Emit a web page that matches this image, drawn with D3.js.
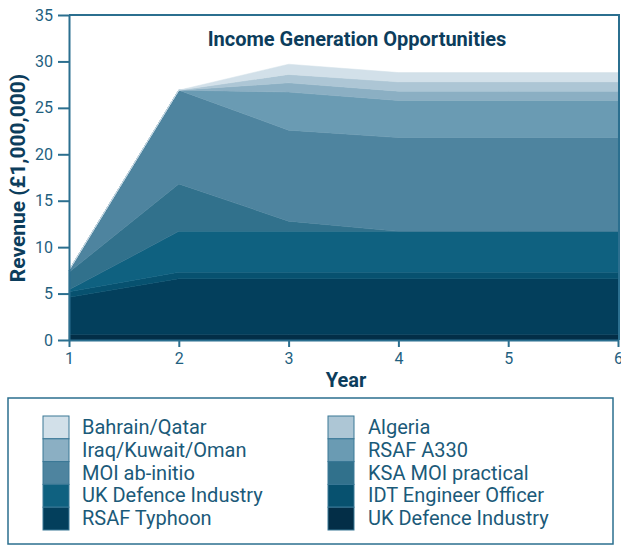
<!DOCTYPE html>
<html>
<head>
<meta charset="utf-8">
<script src="https://cdn.jsdelivr.net/npm/d3@7"></script>
<style>
  body { margin: 0; background: #fff; }
  svg { display: block; font-family: Roboto, "Open Sans", sans-serif; }
  .axis path, .axis line { stroke: #2b6f8f; stroke-width: 2; }
  .axis text { fill: #1f5f7f; font-size: 16px; font-family: Roboto, sans-serif; }
</style>
</head>
<body>
<svg id="chart" width="621" height="545"></svg>
<script>
// Years on the x axis
var years = [1, 2, 3, 4, 5, 6];

// Series names, bottom of the stack first
var seriesNames = [
    "UK Defence Industry", "RSAF Typhoon", "IDT Engineer Officer", "UK Defence Industry",
    "KSA MOI practical", "MOI ab-initio", "RSAF A330", "Iraq/Kuwait/Oman", "Algeria", "Bahrain/Qatar"
];

// Revenue per year, £ millions
var ukDefence1   = [0.6, 0.6, 0.6, 0.6, 0.6, 0.6];
var rsafTyphoon  = [4.0, 6.0, 6.0, 6.0, 6.0, 6.0];
var idtEngineer  = [0.6, 0.7, 0.7, 0.7, 0.7, 0.7];
var ukDefence2   = [0.2, 4.4, 4.4, 4.4, 4.4, 4.4];
var ksaMoi       = [1.9, 5.1, 1.1, 0.0, 0.0, 0.0];
var moiAbInitio  = [0.2, 10.1, 9.8, 10.1, 10.1, 10.1];
var rsafA330     = [0.0, 0.0, 4.1, 4.0, 4.0, 4.0];
var iraqKuwait   = [0.0, 0.0, 1.0, 1.0, 1.0, 1.0];
var algeria      = [0.0, 0.0, 0.9, 1.0, 1.0, 1.0];
var bahrainQatar = [0.0, 0.0, 1.1, 1.0, 1.0, 1.0];

var yTicks = [0, 5, 10, 15, 20, 25, 30, 35];

var seriesValues = [ukDefence1, rsafTyphoon, idtEngineer, ukDefence2, ksaMoi,
    moiAbInitio, rsafA330, iraqKuwait, algeria, bahrainQatar];

var colors = ["#032e47", "#033f5c", "#07516f", "#0f6180", "#31718c",
    "#4e849f", "#6a9bb3", "#8bafc3", "#adc6d5", "#d2e0e9"];

var svg = d3.select("#chart");

// build rows for d3.stack, keyed by index since one name repeats
var keys = seriesNames.map(function (d, i) { return "s" + i; });
var rows = years.map(function (yr, j) {
    var r = { year: yr };
    seriesValues.forEach(function (vals, i) { r["s" + i] = vals[j]; });
    return r;
});
var stacked = d3.stack().keys(keys)(rows);

var x = d3.scaleLinear().domain([1, 6]).range([69, 618]);
var y = d3.scaleLinear().domain([0, 35]).range([340, 15]);

var area = d3.area()
    .x(function (d) { return x(d.data.year); })
    .y0(function (d) { return y(d[0]); })
    .y1(function (d) { return y(d[1]); });

svg.append("g")
    .selectAll("path")
    .data(stacked)
    .enter().append("path")
    .attr("d", area)
    .attr("fill", function (d, i) { return colors[i]; })
    .attr("stroke", function (d, i) { return colors[i]; })
    .attr("stroke-width", 0.5);

// frame top and right
svg.append("path")
    .attr("d", "M" + x(1) + "," + y(35) + "H" + (x(6) + 1) + "V" + y(0))
    .attr("fill", "none")
    .attr("stroke", "#2b6f8f")
    .attr("stroke-width", 2);

// axes
svg.append("g")
    .attr("class", "axis")
    .attr("transform", "translate(" + x(1) + ",0)")
    .call(d3.axisLeft(y).tickValues(yTicks).tickSize(11).tickPadding(5).tickSizeOuter(0));

svg.append("g")
    .attr("class", "axis")
    .attr("transform", "translate(0," + y(0) + ")")
    .call(d3.axisBottom(x).tickValues(years).tickFormat(d3.format("d")).tickSize(7).tickPadding(6).tickSizeOuter(0));

// title and axis labels
svg.append("text")
    .attr("x", 357).attr("y", 46)
    .attr("text-anchor", "middle")
    .attr("font-size", 20).attr("font-weight", "bold")
    .attr("fill", "#0c3d5c")
    .text("Income Generation Opportunities");

svg.append("text")
    .attr("x", 346).attr("y", 387)
    .attr("text-anchor", "middle")
    .attr("font-size", 20).attr("font-weight", "bold")
    .attr("fill", "#0c3d5c")
    .text("Year");

svg.append("text")
    .attr("transform", "translate(25,178) rotate(-90)")
    .attr("text-anchor", "middle")
    .attr("font-size", 21).attr("font-weight", "bold")
    .attr("fill", "#0c3d5c")
    .text("Revenue (£1,000,000)");

// legend
svg.append("rect")
    .attr("x", 8).attr("y", 398)
    .attr("width", 605).attr("height", 146)
    .attr("fill", "none")
    .attr("stroke", "#2b6f8f")
    .attr("stroke-width", 1.5);

// legend order: two columns of five, top to bottom
var legendLeft = [9, 7, 5, 3, 1];
var legendRight = [8, 6, 4, 2, 0];
var rowH = 22.8;

[[legendLeft, 43, 82], [legendRight, 328, 368]].forEach(function (col) {
    var lg = svg.append("g");
    lg.selectAll("rect")
        .data(col[0])
        .enter().append("rect")
        .attr("x", col[1])
        .attr("y", function (d, i) { return 416 + i * rowH; })
        .attr("width", 26)
        .attr("height", rowH)
        .attr("fill", function (d) { return colors[d]; })
        .attr("stroke", "#3a7896")
        .attr("stroke-width", 1);
    lg.selectAll("text")
        .data(col[0])
        .enter().append("text")
        .attr("x", col[2])
        .attr("y", function (d, i) { return 434 + i * rowH; })
        .attr("font-size", 20)
        .attr("fill", "#1b5a79")
        .text(function (d) { return seriesNames[d]; });
});
</script>
</body>
</html>
